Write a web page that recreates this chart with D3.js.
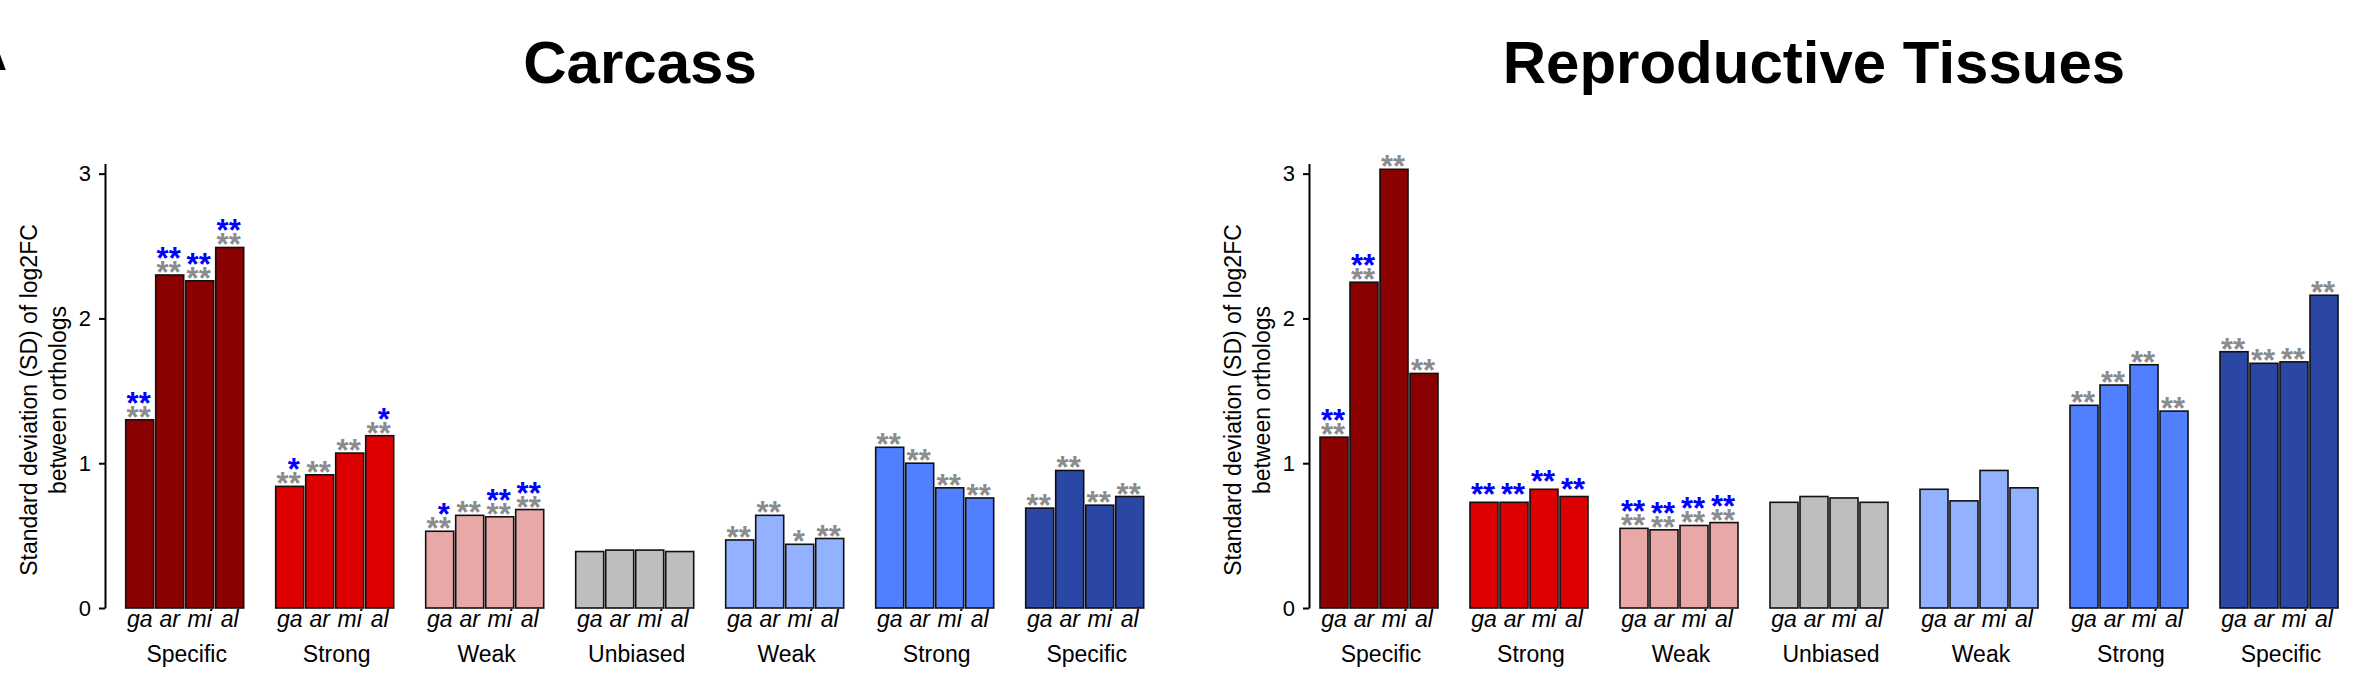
<!DOCTYPE html>
<html>
<head>
<meta charset="utf-8">
<script src="https://cdn.jsdelivr.net/npm/d3@7"></script>
<style>
  body { margin: 0; background: #fff; }
  svg { font-family: "Liberation Sans", Arial, sans-serif; }
</style>
</head>
<body>
<div id="chart"></div>
<script>
// categories
var groups = ["Specific", "Strong", "Weak", "Unbiased", "Weak", "Strong", "Specific"];
var species = ["ga", "ar", "mi", "al"];
var groupColors = ["#8b0000", "#dc0000", "#e8a8a8", "#bebebe", "#92b1ff", "#5080ff", "#2a47a6"];

// SD of log2FC, one row per group (ga, ar, mi, al)
var carcassValues = [
  [1.30, 2.30, 2.26, 2.49],
  [0.84, 0.92, 1.07, 1.19],
  [0.53, 0.64, 0.63, 0.68],
  [0.39, 0.40, 0.40, 0.39],
  [0.47, 0.64, 0.44, 0.48],
  [1.11, 1.00, 0.83, 0.76],
  [0.69, 0.95, 0.71, 0.77]
];
var reproValues = [
  [1.18, 2.25, 3.03, 1.62],
  [0.73, 0.73, 0.82, 0.77],
  [0.55, 0.54, 0.57, 0.59],
  [0.73, 0.77, 0.76, 0.73],
  [0.82, 0.74, 0.95, 0.83],
  [1.40, 1.54, 1.68, 1.36],
  [1.77, 1.69, 1.70, 2.16]
];

// significance marks (gray = vs unbiased, blue = second test)
var carcassGray = [
  ["**", "**", "**", "**"],
  ["**", "**", "**", "**"],
  ["**", "**", "**", "**"],
  ["", "", "", ""],
  ["**", "**", "*", "**"],
  ["**", "**", "**", "**"],
  ["**", "**", "**", "**"]
];
var carcassBlue = [
  ["**", "**", "**", "**"],
  ["*", "", "", "*"],
  ["*", "", "**", "**"],
  ["", "", "", ""],
  ["", "", "", ""],
  ["", "", "", ""],
  ["", "", "", ""]
];
var reproGray = [
  ["**", "**", "**", "**"],
  ["", "", "", ""],
  ["**", "**", "**", "**"],
  ["", "", "", ""],
  ["", "", "", ""],
  ["**", "**", "**", "**"],
  ["**", "**", "**", "**"]
];
var reproBlue = [
  ["**", "**", "", ""],
  ["**", "**", "**", "**"],
  ["**", "**", "**", "**"],
  ["", "", "", ""],
  ["", "", "", ""],
  ["", "", "", ""],
  ["", "", "", ""]
];

var yTicks = [0, 1, 2, 3];

var svg = d3.select("#chart")
  .append("svg")
  .attr("width", 2370)
  .attr("height", 698);

// panel letter, mostly cut off at the left edge
svg.append("text")
  .attr("x", -36)
  .attr("y", 70)
  .attr("font-size", 60)
  .attr("font-weight", "bold")
  .text("A");

// same y scale for both panels
var y = d3.scaleLinear()
  .domain([0, 3.07])
  .range([608, 163.5]);

function drawPanel(title, titleX, axisX, barsX, values, gray, blue) {
  var g = svg.append("g");

  var x = d3.scaleBand()
    .domain(d3.range(groups.length))
    .range([barsX, barsX + 1018])
    .paddingInner(0.2133);

  var xInner = d3.scaleBand()
    .domain(species)
    .range([0, x.bandwidth()])
    .paddingInner(0.0667);

  g.append("text")
    .attr("x", titleX)
    .attr("y", 83)
    .attr("text-anchor", "middle")
    .attr("font-size", 60)
    .attr("font-weight", "bold")
    .text(title);

  // y axis
  var axis = g.append("g")
    .attr("transform", "translate(" + axisX + ",0)")
    .call(d3.axisLeft(y).tickValues(yTicks).tickFormat(d3.format("d"))
      .tickSize(6).tickSizeOuter(0).tickPadding(8));
  axis.select(".domain").attr("stroke-width", 2);
  axis.selectAll(".tick line").attr("stroke-width", 2);
  axis.selectAll(".tick text")
    .attr("font-size", 22)
    .attr("font-family", "'Liberation Sans', Arial, sans-serif")
    .attr("fill", "#000");

  var yl = g.append("text")
    .attr("transform", "translate(" + (axisX - 68) + ",400) rotate(-90)")
    .attr("text-anchor", "middle")
    .attr("font-size", 23);
  yl.append("tspan").attr("x", 0).attr("y", 0).text("Standard deviation (SD) of log2FC");
  yl.append("tspan").attr("x", 0).attr("y", 29).text("between orthologs");

  var grp = g.selectAll(".grp")
    .data(groups)
    .enter().append("g")
    .attr("transform", function(d, i) { return "translate(" + x(i) + ",0)"; });

  grp.each(function(name, gi) {
    var sel = d3.select(this);
    var rows = species.map(function(s, si) {
      return { sp: s, v: values[gi][si], gray: gray[gi][si], blue: blue[gi][si] };
    });

    sel.selectAll("rect")
      .data(rows)
      .enter().append("rect")
      .attr("x", function(d) { return xInner(d.sp); })
      .attr("y", function(d) { return y(d.v); })
      .attr("width", xInner.bandwidth())
      .attr("height", function(d) { return y(0) - y(d.v); })
      .attr("fill", groupColors[gi])
      .attr("stroke", "#111")
      .attr("stroke-width", 1.6);

    // species labels
    sel.selectAll(".sp")
      .data(rows)
      .enter().append("text")
      .attr("x", function(d) { return xInner(d.sp) + xInner.bandwidth() / 2; })
      .attr("y", 627)
      .attr("text-anchor", "middle")
      .attr("font-size", 23)
      .attr("font-style", "italic")
      .text(function(d) { return d.sp; });

    // gray stars just above the bar
    sel.selectAll(".gs")
      .data(rows.filter(function(d) { return d.gray; }))
      .enter().append("text")
      .attr("x", function(d) { return xInner(d.sp) + xInner.bandwidth() / 2 - 1; })
      .attr("y", function(d) { return y(d.v) + 8; })
      .attr("text-anchor", "middle")
      .attr("font-size", 31)
      .attr("font-weight", "bold")
      .attr("fill", "#8c8c8c")
      .text(function(d) { return d.gray; });

    // blue stars stacked above the gray ones
    sel.selectAll(".bs")
      .data(rows.filter(function(d) { return d.blue; }))
      .enter().append("text")
      .attr("x", function(d) {
        var cx = xInner(d.sp) + xInner.bandwidth() / 2 - 1;
        return d.blue == "*" ? cx + 5 : cx;
      })
      .attr("y", function(d) { return d.gray ? y(d.v) - 6 : y(d.v) + 3; })
      .attr("text-anchor", "middle")
      .attr("font-size", 31)
      .attr("font-weight", "bold")
      .attr("fill", "#0000ff")
      .text(function(d) { return d.blue; });

    sel.append("text")
      .attr("x", x.bandwidth() / 2 + 2)
      .attr("y", 662)
      .attr("text-anchor", "middle")
      .attr("font-size", 23)
      .text(name);
  });
}

drawPanel("Carcass", 640, 105, 125.7, carcassValues, carcassGray, carcassBlue);
drawPanel("Reproductive Tissues", 1814, 1309, 1320, reproValues, reproGray, reproBlue);
</script>
</body>
</html>
